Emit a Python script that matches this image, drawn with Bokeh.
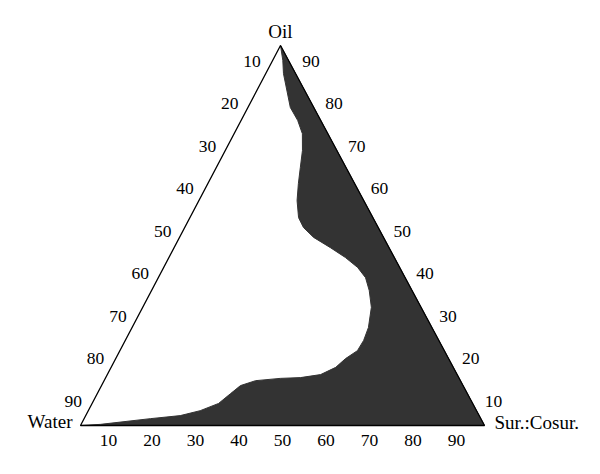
from bokeh.plotting import figure
from bokeh.models import Range1d
from bokeh.core.properties import value
from bokeh.embed import file_html
from bokeh.resources import INLINE

# ---- data (ternary percentages) ----
vertex_names = ["Oil", "Water", "Sur.:Cosur."]
left_ticks = ["10", "20", "30", "40", "50", "60", "70", "80", "90"]      # top -> bottom
right_ticks = ["90", "80", "70", "60", "50", "40", "30", "20", "10"]     # top -> bottom
bottom_ticks = ["10", "20", "30", "40", "50", "60", "70", "80", "90"]    # left -> right

# boundary of the dark (single-phase) region, inner curve from Water corner to Oil corner
oil_pct = [0, 0.3, 1.8, 2.6, 3.9, 5.8, 8.4, 10.5, 11.8, 12.4, 12.6, 13.4, 15.3, 17.6,
           19.7, 22.4, 25.8, 31.1, 35.5, 38.9, 41.6, 44.2, 46.8, 49.5, 52.1, 54.7,
           59.2, 63.7, 67.9, 72.4, 76.8, 80.3, 83.7, 92.6, 96.1, 100]
sur_pct = [0, 4.8, 16.4, 23.4, 27.7, 31.3, 33.0, 34.4, 37.5, 43.3, 48.2, 52.8, 55.6, 56.9,
           58.8, 59.0, 58.5, 56.6, 53.9, 51.3, 48.0, 43.7, 38.7, 33.2, 29.4, 26.9,
           24.3, 22.4, 20.8, 19.1, 16.9, 14.0, 10.5, 4.4, 2.5, 0]

# ---- layout (page pixel coordinates of the triangle corners) ----
OX, OY = 280, 45    # Oil
WX, WY = 80, 425    # Water
SX, SY = 484, 425   # Sur.:Cosur.


def to_xy(o, s):
    o = o / 100.0
    s = s / 100.0
    w = 1 - o - s
    return (o * OX + w * WX + s * SX, o * OY + w * WY + s * SY)


p = figure(width=584, height=458, output_backend="svg", toolbar_location=None,
           x_range=Range1d(0, 584), y_range=Range1d(458, 0),
           x_axis_type=None, y_axis_type=None, min_border=0)
p.grid.visible = False
p.outline_line_color = None
p.background_fill_color = "white"

# dark region
xs, ys = [], []
for o, s in zip(oil_pct, sur_pct):
    x, y = to_xy(o, s)
    xs.append(x)
    ys.append(y)
cx, cy = to_xy(0, 100)
xs.append(cx)
ys.append(cy)
p.patch(xs, ys, fill_color="#333333", line_color="#333333", line_width=1)

# triangle outline
tx, ty = zip(to_xy(100, 0), to_xy(0, 0), to_xy(0, 100), to_xy(100, 0))
p.line(list(tx), list(ty), line_color="black", line_width=1.3)

font = value("Liberation Serif")

# side tick labels
lx, ly = [], []
rx, ry = [], []
for i in range(9):
    f = 0.042 + 0.1118 * i
    y = OY + (WY - OY) * f
    lx.append(OX + (WX - OX) * f - 20)
    ly.append(y)
    rx.append(OX + (SX - OX) * f + 22)
    ry.append(y)
p.text(lx, ly, text=left_ticks, text_font=font, text_font_size="17.5px",
       text_align="center", text_baseline="middle", text_color="black")
p.text(rx, ry, text=right_ticks, text_font=font, text_font_size="17.5px",
       text_align="center", text_baseline="middle", text_color="black")

bx = [WX + (SX - WX) * (0.069 + 0.1077 * i) for i in range(9)]
by = [440] * 9
p.text(bx, by, text=bottom_ticks, text_font=font, text_font_size="17.5px",
       text_align="center", text_baseline="middle", text_color="black")

# vertex names
p.text([OX], [OY - 14], text=[vertex_names[0]], text_font=font, text_font_size="19px",
       text_align="center", text_baseline="middle", text_color="black")
p.text([WX - 8], [WY - 4], text=[vertex_names[1]], text_font=font, text_font_size="19px",
       text_align="right", text_baseline="middle", text_color="black")
p.text([SX + 10], [SY - 3], text=[vertex_names[2]], text_font=font, text_font_size="19px",
       text_align="left", text_baseline="middle", text_color="black")

open("out.html", "w").write(file_html(p, INLINE))
